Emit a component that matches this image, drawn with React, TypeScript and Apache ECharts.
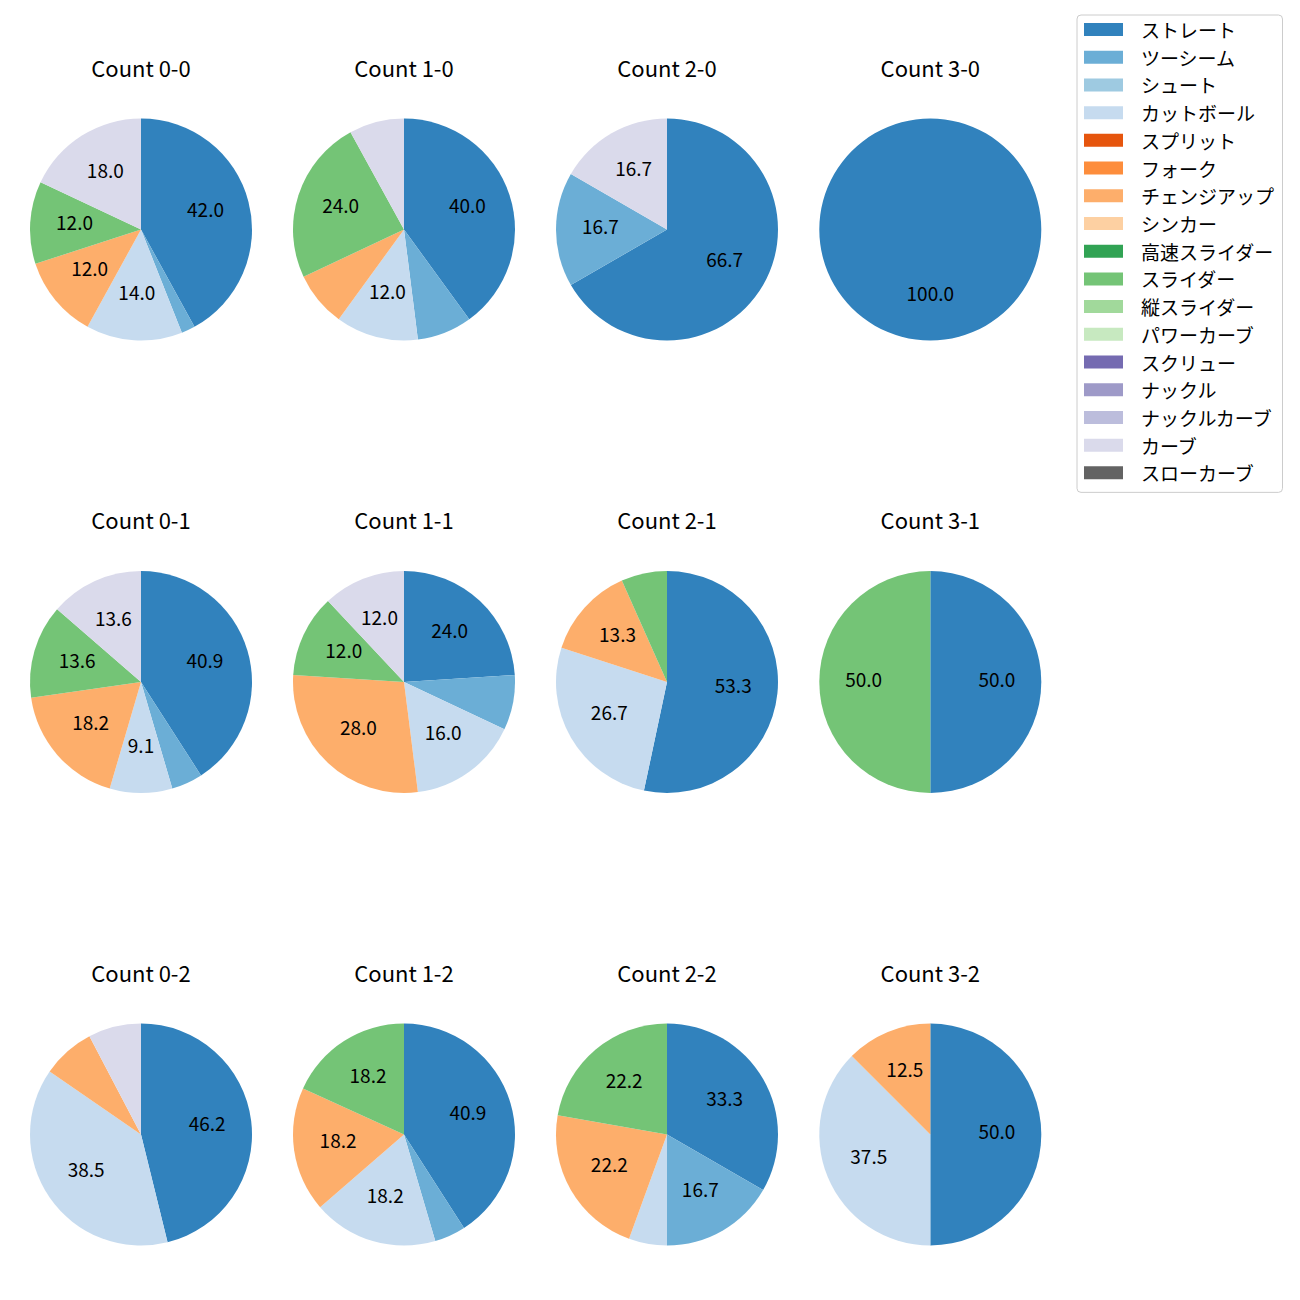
import React, { useEffect, useRef } from 'react';
import * as echarts from 'echarts';

const FONT = '"Noto Sans CJK JP", "Noto Sans", sans-serif';

const pitchTypes = [
  'ストレート', 'ツーシーム', 'シュート', 'カットボール', 'スプリット', 'フォーク',
  'チェンジアップ', 'シンカー', '高速スライダー', 'スライダー', '縦スライダー',
  'パワーカーブ', 'スクリュー', 'ナックル', 'ナックルカーブ', 'カーブ', 'スローカーブ',
];
const pitchColors = [
  '#3182bd', '#6baed6', '#9ecae1', '#c6dbef', '#e6550d', '#fd8d3c',
  '#fdae6b', '#fdd0a2', '#31a354', '#74c476', '#a1d99b',
  '#c7e9c0', '#756bb1', '#9e9ac8', '#bcbddc', '#dadaeb', '#636363',
];

// pitch counts in pitchTypes order
const count00 = [21, 1, 0, 7, 0, 0, 6, 0, 0, 6, 0, 0, 0, 0, 0, 9, 0];
const count10 = [10, 2, 0, 3, 0, 0, 2, 0, 0, 6, 0, 0, 0, 0, 0, 2, 0];
const count20 = [4, 1, 0, 0, 0, 0, 0, 0, 0, 0, 0, 0, 0, 0, 0, 1, 0];
const count30 = [1, 0, 0, 0, 0, 0, 0, 0, 0, 0, 0, 0, 0, 0, 0, 0, 0];
const count01 = [9, 1, 0, 2, 0, 0, 4, 0, 0, 3, 0, 0, 0, 0, 0, 3, 0];
const count11 = [6, 2, 0, 4, 0, 0, 7, 0, 0, 3, 0, 0, 0, 0, 0, 3, 0];
const count21 = [8, 0, 0, 4, 0, 0, 2, 0, 0, 1, 0, 0, 0, 0, 0, 0, 0];
const count31 = [1, 0, 0, 0, 0, 0, 0, 0, 0, 1, 0, 0, 0, 0, 0, 0, 0];
const count02 = [6, 0, 0, 5, 0, 0, 1, 0, 0, 0, 0, 0, 0, 0, 0, 1, 0];
const count12 = [9, 1, 0, 4, 0, 0, 4, 0, 0, 4, 0, 0, 0, 0, 0, 0, 0];
const count22 = [6, 3, 0, 1, 0, 0, 4, 0, 0, 4, 0, 0, 0, 0, 0, 0, 0];
const count32 = [4, 0, 0, 3, 0, 0, 1, 0, 0, 0, 0, 0, 0, 0, 0, 0, 0];

const panelTitles = [
  'Count 0-0', 'Count 1-0', 'Count 2-0', 'Count 3-0',
  'Count 0-1', 'Count 1-1', 'Count 2-1', 'Count 3-1',
  'Count 0-2', 'Count 1-2', 'Count 2-2', 'Count 3-2',
];
const panelValues = [
  count00, count10, count20, count30,
  count01, count11, count21, count31,
  count02, count12, count22, count32,
];

const colX = [141, 404, 667, 930.3];
const rowY = [229.5, 682, 1134.5];
const titleY = [66.9, 519.3, 971.7];
const R = 111;
// ECharts places 'inside' pie labels at (r + r0) / 2 + 3px; choose r0 so labels sit at 0.6 R
const LABEL_R0 = 16.2;
const LABEL_DY = -4;
const LABEL_MIN_PCT = 8.5;

export default function App() {
  const ref = useRef<HTMLDivElement>(null);
  useEffect(() => {
    if (!ref.current) return;
    const chart = echarts.init(ref.current, undefined, { renderer: 'svg' });
    const series: any[] = [];
    const graphics: any[] = [];
    panelValues.forEach((vals, i) => {
      const col = i % 4;
      const row = Math.floor(i / 4);
      const cx = colX[col];
      const cy = rowY[row];
      const total = vals.reduce((a, b) => a + b, 0);
      series.push({
        type: 'pie',
        center: [cx, cy],
        radius: [0, R],
        startAngle: 90,
        clockwise: true,
        silent: true,
        emphasis: { disabled: true },
        label: { show: false },
        labelLine: { show: false },
        itemStyle: { borderWidth: 0 },
        data: pitchTypes.map((n, k) => ({ name: n, value: vals[k], itemStyle: { color: pitchColors[k] } })),
      });
      series.push({
        type: 'pie',
        center: [cx, cy + LABEL_DY],
        radius: [LABEL_R0, R],
        startAngle: 90,
        clockwise: true,
        silent: true,
        emphasis: { disabled: true },
        itemStyle: { color: 'rgba(0,0,0,0)', borderWidth: 0 },
        label: {
          show: true,
          position: 'inside',
          color: '#000',
          fontSize: 19,
          fontFamily: FONT,
          formatter: (p: any) => {
            const pct = (p.value / total) * 100;
            return pct > LABEL_MIN_PCT ? pct.toFixed(1) : '';
          },
        },
        labelLine: { show: false },
        data: pitchTypes.map((n, k) => ({ name: n, value: vals[k] })),
      });
      graphics.push({
        type: 'text',
        x: cx,
        y: titleY[row],
        style: {
          text: panelTitles[i],
          font: `22px ${FONT}`,
          fill: '#000',
          textAlign: 'center',
          textVerticalAlign: 'middle',
        },
      });
    });
    chart.setOption({
      animation: false,
      backgroundColor: '#fff',
      legend: {
        orient: 'vertical',
        left: 1077,
        top: 15,
        data: pitchTypes,
        icon: 'rect',
        itemWidth: 39,
        itemHeight: 13,
        itemGap: 8.71,
        padding: [5, 8.5, 10, 7],
        borderColor: '#cccccc',
        borderWidth: 1,
        borderRadius: 4,
        backgroundColor: '#fff',
        selectedMode: false,
        textStyle: { fontSize: 19, fontFamily: FONT, color: '#000', padding: [0, 0, 0, 13] },
      },
      graphic: graphics,
      series,
    });
    return () => chart.dispose();
  }, []);
  return (
    <div
      ref={ref}
      style={{ position: 'absolute', left: 0, top: 0, width: 1300, height: 1300 }}
    />
  );
}
